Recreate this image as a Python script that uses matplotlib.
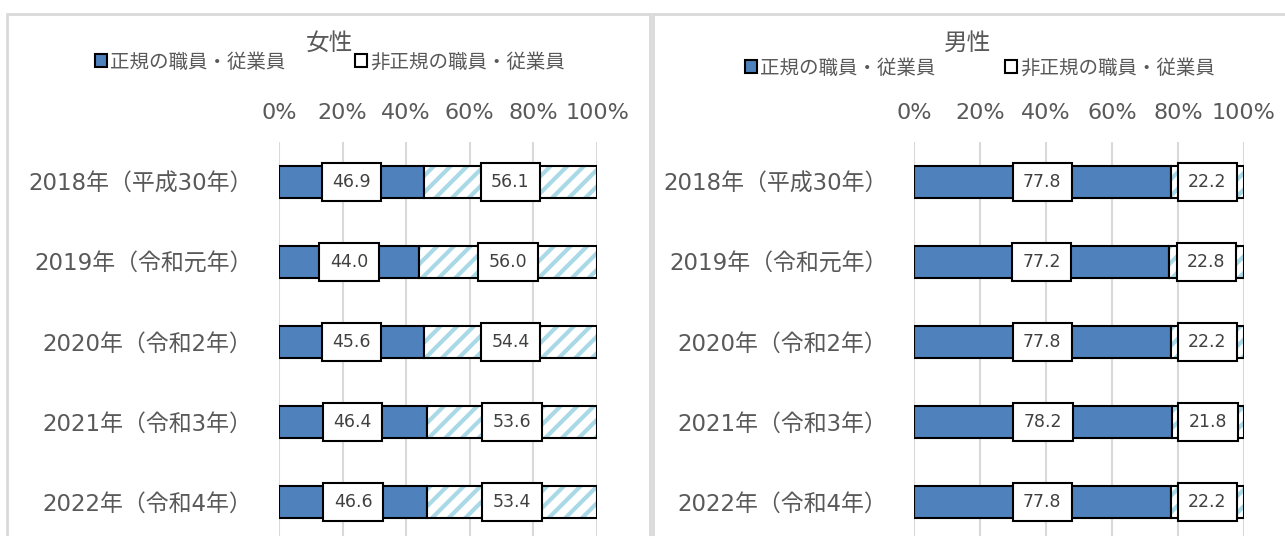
import numpy as np
import matplotlib.pyplot as plt
from matplotlib.patches import Patch, Rectangle

plt.rcParams['font.family'] = ['DejaVu Sans', 'Noto Sans CJK JP']
plt.rcParams['hatch.linewidth'] = 3.0

years = ["2018年（平成30年）", "2019年（令和元年）", "2020年（令和2年）",
         "2021年（令和3年）", "2022年（令和4年）"]
women_regular = [46.9, 44.0, 45.6, 46.4, 46.6]
women_nonregular = [56.1, 56.0, 54.4, 53.6, 53.4]
men_regular = [77.8, 77.2, 77.8, 78.2, 77.8]
men_nonregular = [22.2, 22.8, 22.2, 21.8, 22.2]

legend_labels = ["正規の職員・従業員", "非正規の職員・従業員"]
xticks = [0, 20, 40, 60, 80, 100]

BLUE = "#4f81bd"
HATCH = "#a9d8e6"
GREY_TXT = "#595959"
GRID = "#d9d9d9"

W, H = 1285, 536
fig = plt.figure(figsize=(W / 100, H / 100), dpi=100)

# panel frames (pixel coords -> figure coords)
def px_rect(x0, y0, x1, y1):
    return [x0 / W, 1 - y1 / H, (x1 - x0) / W, (y1 - y0) / H]

for x0, x1 in [(7, 650), (653, 1295)]:
    r = px_rect(x0, 14, x1, 560)
    fig.patches.append(Rectangle((r[0], r[1]), r[2], r[3], transform=fig.transFigure,
                                 fill=False, edgecolor=GRID, linewidth=2, zorder=0))


def panel(ax_px, title, title_xy, legend_xy, regular, nonregular):
    ax = fig.add_axes(px_rect(*ax_px))
    reg = np.array(regular)
    non = np.array(nonregular)
    total = reg + non
    reg_pct = reg / total * 100
    non_pct = non / total * 100
    y = np.arange(len(years))

    b1 = ax.barh(y, reg_pct, height=0.4, color=BLUE, edgecolor="black",
                 linewidth=1.5, zorder=3)
    ax.barh(y, non_pct, left=reg_pct, height=0.4, color="white",
            edgecolor=HATCH, hatch="//", linewidth=0, zorder=3)
    b2 = ax.barh(y, non_pct, left=reg_pct, height=0.4, color="none",
                 edgecolor="black", linewidth=1.5, zorder=4)

    box = dict(boxstyle="square,pad=0.6", facecolor="white", edgecolor="black",
               linewidth=1.5)
    ax.bar_label(b1, labels=[f"{v:.1f}" for v in reg], label_type="center",
                 fontsize=12.5, color="#404040", bbox=box, zorder=5)
    ax.bar_label(b2, labels=[f"{v:.1f}" for v in non], label_type="center",
                 fontsize=12.5, color="#404040", bbox=box, zorder=5)

    ax.set_xlim(0, 100)
    ax.set_ylim(len(years) - 0.5, -0.5)
    ax.set_xticks(xticks)
    ax.set_xticklabels([f"{t}%" for t in xticks])
    ax.set_yticks(y)
    ax.set_yticklabels(years)
    ax.xaxis.tick_top()
    ax.tick_params(axis="x", length=0, pad=14, labelsize=16, labelcolor=GREY_TXT)
    ax.tick_params(axis="y", length=0, pad=19, labelsize=16.5, labelcolor=GREY_TXT)
    for s in ax.spines.values():
        s.set_visible(False)
    ax.grid(axis="x", color=GRID, linewidth=1.5, zorder=0)
    ax.set_axisbelow(True)

    fig.text(title_xy[0] / W, 1 - title_xy[1] / H, title, fontsize=17,
             color=GREY_TXT, ha="center", va="center")
    handles = [Patch(facecolor=BLUE, edgecolor="black", linewidth=1.5),
               Patch(facecolor="white", edgecolor="black", linewidth=1.5)]
    fig.legend(handles, legend_labels, loc="center",
               bbox_to_anchor=(legend_xy[0] / W, 1 - legend_xy[1] / H),
               ncol=2, frameon=False, fontsize=14, labelcolor=GREY_TXT,
               handlelength=0.6, handleheight=0.6, handletextpad=0.15,
               columnspacing=3.6)
    return ax


panel((279, 142, 597, 542), "女性", (329, 43), (330, 62), women_regular, women_nonregular)
panel((914, 142, 1244, 542), "男性", (968, 43), (980, 68), men_regular, men_nonregular)

fig.savefig("out.png", dpi=100)
